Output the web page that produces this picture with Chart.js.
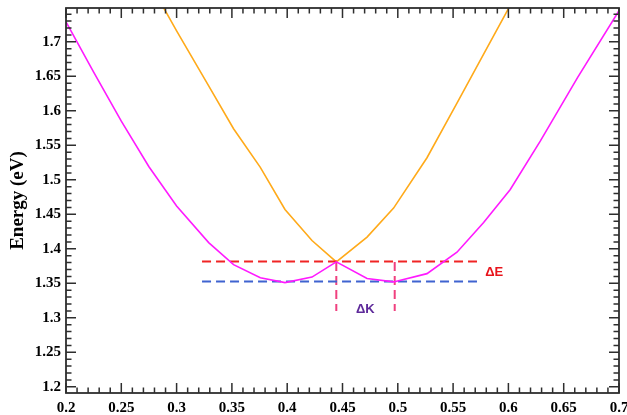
<!DOCTYPE html>
<html><head><meta charset="utf-8">
<script src="https://cdn.jsdelivr.net/npm/chart.js@4.4.1/dist/chart.umd.min.js"></script>
<style>html,body{margin:0;padding:0;background:#fff;}canvas{display:block;}</style>
</head><body>
<canvas id="c" width="627" height="415"></canvas>
<script>
const xTickLabels = ['0.2','0.25','0.3','0.35','0.4','0.45','0.5','0.55','0.6','0.65','0.7'];
const yTickLabels = ['1.2','1.25','1.3','1.35','1.4','1.45','1.5','1.55','1.6','1.65','1.7'];

const magentaK = [0.2, 0.225, 0.25, 0.275, 0.3, 0.329, 0.3515, 0.3757, 0.398, 0.4224, 0.4444, 0.4722, 0.4962, 0.5264, 0.5535, 0.5776, 0.6017, 0.6288, 0.6625, 0.7];
const magentaE = [1.729, 1.656, 1.585, 1.519, 1.462, 1.409, 1.377, 1.358, 1.351, 1.359, 1.381, 1.357, 1.352, 1.364, 1.395, 1.438, 1.486, 1.556, 1.648, 1.745];

const orangeK = [0.275, 0.3, 0.329, 0.3515, 0.3757, 0.398, 0.4224, 0.4444, 0.4722, 0.4962, 0.5264, 0.5535, 0.5776, 0.6017, 0.625];
const orangeE = [1.787, 1.716, 1.636, 1.574, 1.518, 1.457, 1.412, 1.381, 1.417, 1.459, 1.532, 1.611, 1.682, 1.753, 1.82];

const deltaEk = [0.323, 0.5716];
const deltaEupper = [1.3817, 1.3817];
const deltaElower = [1.3526, 1.3526];
const deltaKleftK = [0.4444, 0.4444];
const deltaKrightK = [0.4972, 0.4972];
const deltaKE = [1.381, 1.31];

const annotations = [
  {text: 'ΔE', k: 0.5871, e: 1.3657, color: '#e8141c'},
  {text: 'ΔK', k: 0.4706, e: 1.3125, color: '#5e2a9a'}
];

const pts = (ks, es) => ks.map((k, i) => ({x: k, y: es[i]}));
const labelFor = (v, arr) => { const s = arr.find(l => Math.abs(parseFloat(l) - v) < 1e-6); return s === undefined ? '' : s; };

const framePlugin = {
  id: 'frame',
  afterDatasetsDraw(chart) {
    const {ctx, chartArea: {left, right, top, bottom}, scales: {x, y}} = chart;
    ctx.save();
    ctx.strokeStyle = '#2e2e2e';
    ctx.lineWidth = 1.5;
    ctx.beginPath();
    for (let i = 0; i <= 50; i++) {
      const px = x.getPixelForValue(0.2 + i * 0.01);
      const len = (i % 5 === 0) ? 10 : 5.5;
      ctx.moveTo(px, bottom); ctx.lineTo(px, bottom - len);
      ctx.moveTo(px, top); ctx.lineTo(px, top + len);
    }
    for (let i = 0; i <= 54; i++) {
      const v = 1.2 + i * 0.01;
      if (v > y.max) break;
      const py = y.getPixelForValue(v);
      const len = (i % 5 === 0) ? 10 : 5.5;
      ctx.moveTo(left, py); ctx.lineTo(left + len, py);
      ctx.moveTo(right, py); ctx.lineTo(right - len, py);
    }
    ctx.stroke();
    ctx.lineWidth = 1.8;
    ctx.strokeRect(left, top, right - left, bottom - top);
    ctx.font = 'bold 13px "Liberation Sans", Arial, sans-serif';
    ctx.textAlign = 'center';
    ctx.textBaseline = 'middle';
    annotations.forEach(a => {
      ctx.fillStyle = a.color;
      ctx.fillText(a.text, x.getPixelForValue(a.k), y.getPixelForValue(a.e));
    });
    ctx.restore();
  }
};

const dashStyle = {pointRadius: 0, borderWidth: 2, borderDash: [9, 5], tension: 0, fill: false};

new Chart(document.getElementById('c').getContext('2d'), {
  type: 'line',
  data: {
    datasets: [
      Object.assign({data: pts(deltaEk, deltaEupper), borderColor: '#f02424', order: 1}, dashStyle),
      Object.assign({data: pts(deltaEk, deltaElower), borderColor: '#3f63d0', order: 1}, dashStyle),
      Object.assign({data: pts(deltaKleftK, deltaKE), borderColor: '#f0407f', order: 1}, dashStyle),
      Object.assign({data: pts(deltaKrightK, deltaKE), borderColor: '#f0407f', order: 1}, dashStyle),
      {data: pts(orangeK, orangeE), borderColor: '#ffaa1a', borderWidth: 1.6, pointRadius: 0, tension: 0, fill: false, order: 2},
      {data: pts(magentaK, magentaE), borderColor: '#ff1aff', borderWidth: 1.6, pointRadius: 0, tension: 0, fill: false, order: 0}
    ]
  },
  options: {
    responsive: false,
    animation: false,
    devicePixelRatio: 1,
    layout: {padding: {left: 0, right: 8, top: 8, bottom: 0}},
    plugins: {legend: {display: false}, tooltip: {enabled: false}},
    scales: {
      x: {
        type: 'linear', min: 0.2, max: 0.7,
        grid: {display: false, drawTicks: false}, border: {display: false},
        ticks: {stepSize: 0.05, includeBounds: false, padding: 6, autoSkip: false, maxRotation: 0, color: '#000',
          font: {family: '"Liberation Serif", "Times New Roman", serif', size: 15, weight: 'bold'},
          callback: v => labelFor(v, xTickLabels)},
        afterFit: s => { s.height = 22; s.paddingLeft = 0; s.paddingRight = 0; }
      },
      y: {
        type: 'linear', min: 1.191, max: 1.749,
        grid: {display: false, drawTicks: false}, border: {display: false},
        ticks: {stepSize: 0.05, includeBounds: false, padding: 5, autoSkip: false, color: '#000',
          font: {family: '"Liberation Serif", "Times New Roman", serif', size: 15, weight: 'bold'},
          callback: v => labelFor(v, yTickLabels)},
        title: {display: true, text: 'Energy (eV)', color: '#000', padding: {top: 7, bottom: 0},
          font: {family: '"Liberation Serif", "Times New Roman", serif', size: 19, weight: 'bold'}},
        afterFit: s => { s.width = 66; s.paddingTop = 0; s.paddingBottom = 0; }
      }
    }
  },
  plugins: [framePlugin]
});
</script>
</body></html>
